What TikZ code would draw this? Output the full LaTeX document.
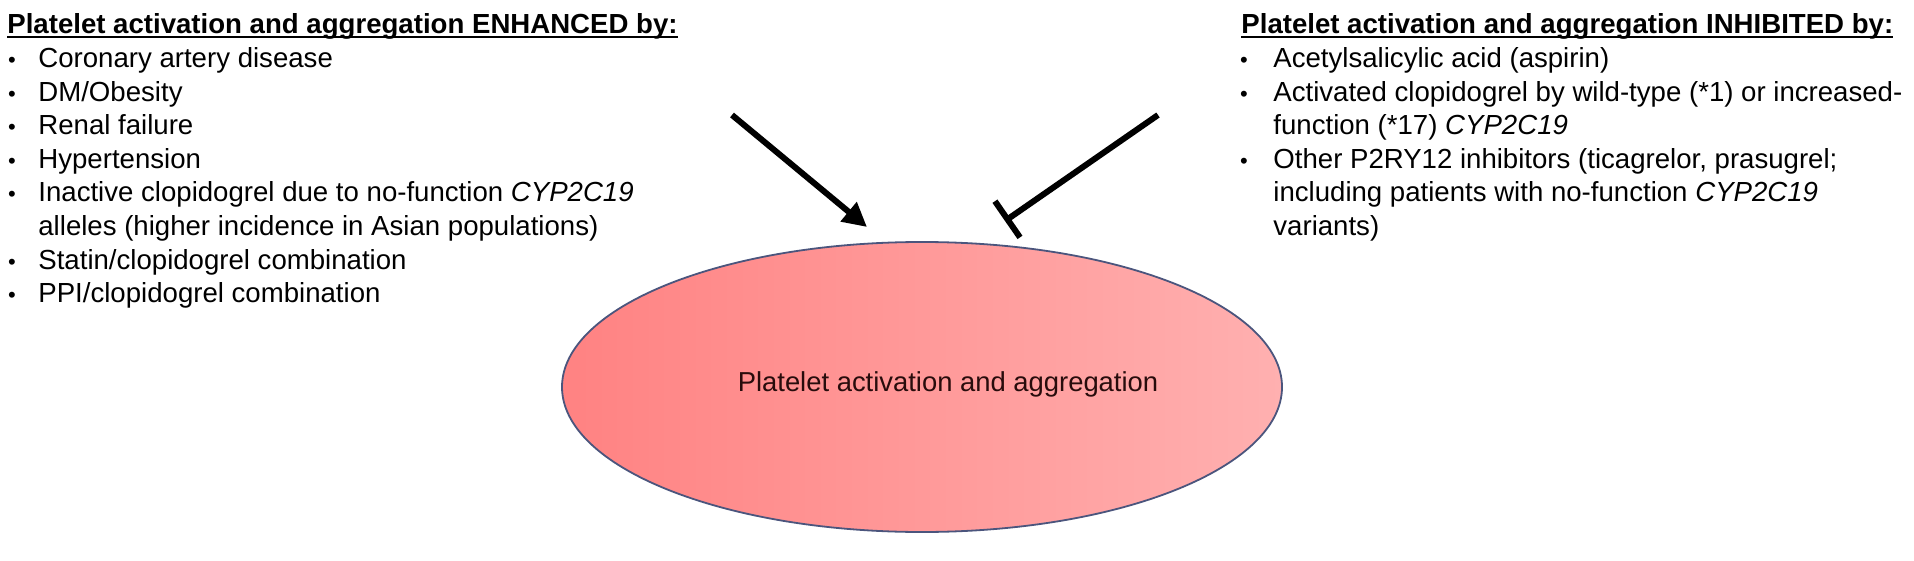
\documentclass[tikz,border=0pt]{standalone}
\usepackage{fontspec}
\setmainfont{Liberation Sans}
\usetikzlibrary{arrows.meta,shapes.geometric}
\definecolor{elL}{RGB}{255,130,130}
\definecolor{elR}{RGB}{255,176,176}
\definecolor{elB}{RGB}{75,85,125}
\definecolor{elT}{RGB}{40,12,12}
\newcommand\myul[1]{\setbox0\hbox{#1}\rlap{\rule[-0.13em]{\wd0}{0.07em}}\box0}
\begin{document}
\begin{tikzpicture}[x=0.5pt,y=-0.5pt,
  txt/.style={anchor=base west,inner sep=0pt,font=\fontsize{13.8}{16}\selectfont},
  hd/.style={txt,font=\fontsize{13.8}{16}\selectfont\bfseries},
  bul/.style={anchor=base,inner sep=0pt,font=\fontsize{11}{16}\selectfont},
  act/.style={line width=3pt,-{Triangle[length=12pt,width=12pt]}},
  inh/.style={line width=3pt,-{Bar[width=22pt]}},
  oval/.style={draw=elB,line width=0.9pt,ellipse,inner sep=0pt,minimum width=360pt,minimum height=145pt,left color=elL,right color=elR}]
\fill[white] (0,0) rectangle (1914,561);
\useasboundingbox (0,0) rectangle (1914,561);

% ellipse
\node[oval] (pl) at (922,387) {};
\node[anchor=base,inner sep=0pt,text=elT,font=\fontsize{13.7}{16}\selectfont] (plt) at (948,391) {Platelet activation and aggregation};

% left block
\node[hd] (lh) at (7,34) {\myul{Platelet activation and aggregation ENHANCED by:}};
\foreach \i/\y/\t in {1/67.6/{Coronary artery disease},2/101.2/{DM/Obesity},3/134.8/{Renal failure},4/168.4/{Hypertension},5/202/{Inactive clopidogrel due to no-function \textit{CYP2C19}},7/269.2/{Statin/clopidogrel combination},8/302.8/{PPI/clopidogrel combination}}{
  \node[bul] (lb\i) at (12,\y) {\textbullet};
  \node[txt] (lt\i) at (38,\y) {\t};
}
\node[txt] (lt6) at (38,235.6) {alleles (higher incidence in Asian populations)};

% right block
\node[hd] (rh) at (1241,34) {\myul{Platelet activation and aggregation INHIBITED by:}};
\node[bul] (rb1) at (1244,67.6) {\textbullet};
\node[txt] (rt1) at (1273,67.6) {Acetylsalicylic acid (aspirin)};
\node[bul] (rb2) at (1244,101.2) {\textbullet};
\node[txt] (rt2) at (1273,101.2) {Activated clopidogrel by wild-type (*1) or increased-};
\node[txt] (rt3) at (1273,134.8) {function (*17) \textit{CYP2C19}};
\node[bul] (rb4) at (1244,168.4) {\textbullet};
\node[txt] (rt4) at (1273,168.4) {Other P2RY12 inhibitors (ticagrelor, prasugrel;};
\node[txt] (rt5) at (1273,202) {including patients with no-function \textit{CYP2C19}};
\node[txt] (rt6) at (1273,235.6) {variants)};

% connectors
\coordinate (a1s) at (732,115);
\coordinate (a1e) at (867,227);
\coordinate (a2s) at (1158,115);
\coordinate (a2e) at (1005,221);
\draw[act] (a1s) -- (a1e);
\draw[inh] (a2s) -- (a2e);
\end{tikzpicture}
\end{document}
